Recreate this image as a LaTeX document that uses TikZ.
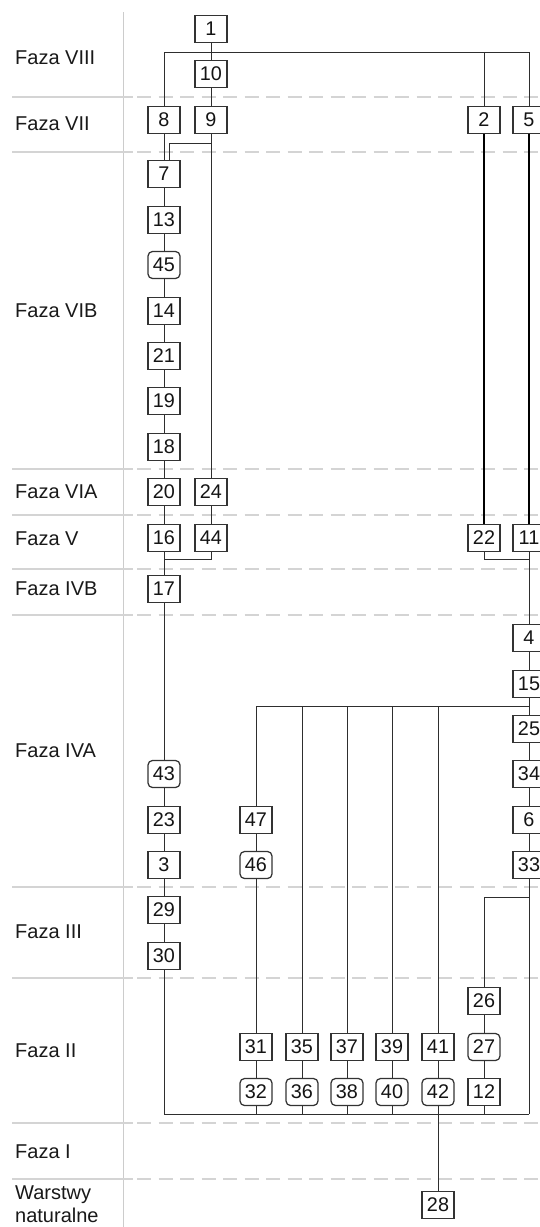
\documentclass[tikz,border=0pt]{standalone}
\usepackage{fontspec}
\setmainfont{Liberation Sans}
\begin{document}
\begin{tikzpicture}[x=1pt,y=-1pt,
  bx/.style={draw=black!80,line width=1.25pt,minimum width=32pt,minimum height=27pt,inner sep=0pt,fill=white,text=black!92,font=\fontsize{19.8}{22}\selectfont},
  rbx/.style={bx,rounded corners=4.5pt},
  ln/.style={draw=black!82,line width=1pt},
  heavyline/.style={draw=black,line width=2.2pt},
  lab/.style={anchor=base west,inner sep=0pt,text=black!90,font=\fontsize{20}{24}\selectfont},
  sepsolid/.style={draw=black!17,line width=1.3pt},
  sepdash/.style={draw=black!17,line width=1.3pt,dash pattern=on 14pt off 7.5pt},
  vsep/.style={draw=black!20,line width=1pt}]
\useasboundingbox (0,0) rectangle (540,1227);
\clip (0,0) rectangle (540,1227);
\fill[white] (0,0) rectangle (540,1227);
% separators
\draw[vsep] (123,12) -- (123,1227);
\foreach \yy in {97,152,469,515,569,615,887,978,1123,1179}{
  \draw[sepsolid] (12,\yy) -- (133,\yy);
  \draw[sepdash] (137,\yy) -- (540,\yy);
}
% labels
\node[lab] (l8) at (15,64) {Faza VIII};
\node[lab] (l7) at (15,130) {Faza VII};
\node[lab] (l6b) at (15,317) {Faza VIB};
\node[lab] (l6a) at (15,498) {Faza VIA};
\node[lab] (l5) at (15,545) {Faza V};
\node[lab] (l4b) at (15,595) {Faza IVB};
\node[lab] (l4a) at (15,757) {Faza IVA};
\node[lab] (l3) at (15,938) {Faza III};
\node[lab] (l2) at (15,1057) {Faza II};
\node[lab] (l1) at (15,1158) {Faza I};
\node[lab] (lw) at (15,1199) {Warstwy};
\node[lab] (ln0) at (15,1222) {naturalne};
% coordinates
\coordinate (top) at (164,52);
\coordinate (topR) at (529,52);
\coordinate (j9) at (211,143);
\coordinate (jA) at (164,559);
\coordinate (jE) at (529,559);
\coordinate (fan) at (529,706);
\coordinate (br) at (529,897);
\coordinate (bl) at (164,1114);
\coordinate (brr) at (529,1114);
% boxes
\node[bx] (n1) at (211,29) {1};
\node[bx] (n10) at (211,74) {10};
\node[bx] (n8) at (164,120) {8};
\node[bx] (n9) at (211,120) {9};
\node[bx] (n2) at (484,120) {2};
\node[bx] (n5) at (529,120) {5};
\node[bx] (n7) at (164,174) {7};
\node[bx] (n13) at (164,220) {13};
\node[rbx] (n45) at (164,265) {45};
\node[bx] (n14) at (164,311) {14};
\node[bx] (n21) at (164,356) {21};
\node[bx] (n19) at (164,401) {19};
\node[bx] (n18) at (164,447) {18};
\node[bx] (n20) at (164,492) {20};
\node[bx] (n24) at (211,492) {24};
\node[bx] (n16) at (164,538) {16};
\node[bx] (n44) at (211,538) {44};
\node[bx] (n22) at (484,538) {22};
\node[bx] (n11) at (529,538) {11};
\node[bx] (n17) at (164,589) {17};
\node[bx] (n4) at (529,638) {4};
\node[bx] (n15) at (529,684) {15};
\node[bx] (n25) at (529,729) {25};
\node[bx] (n34) at (529,774) {34};
\node[bx] (n6) at (529,820) {6};
\node[bx] (n33) at (529,865) {33};
\node[rbx] (n43) at (164,774) {43};
\node[bx] (n23) at (164,820) {23};
\node[bx] (n3) at (164,865) {3};
\node[bx] (n47) at (256,820) {47};
\node[rbx] (n46) at (256,865) {46};
\node[bx] (n29) at (164,910) {29};
\node[bx] (n30) at (164,956) {30};
\node[bx] (n26) at (484,1001) {26};
\node[bx] (n31) at (256,1047) {31};
\node[bx] (n35) at (302,1047) {35};
\node[bx] (n37) at (347,1047) {37};
\node[bx] (n39) at (392,1047) {39};
\node[bx] (n41) at (438,1047) {41};
\node[rbx] (n27) at (484,1047) {27};
\node[rbx] (n32) at (256,1092) {32};
\node[rbx] (n36) at (302,1092) {36};
\node[rbx] (n38) at (347,1092) {38};
\node[rbx] (n40) at (392,1092) {40};
\node[rbx] (n42) at (438,1092) {42};
\node[bx] (n12) at (484,1092) {12};
\node[bx] (n28) at (438,1205) {28};
% connectors
\draw[ln] (top) -- (topR);
\draw[ln] (n8.north) -- (top);
\draw[ln] (n2.north) -- (n2 |- top);
\draw[ln] (n5.north) -- (n5 |- top);
\draw[ln] (n1) -- (n10);
\draw[ln] (n10) -- (n9);
\draw[ln] (n8) -- (n7);
\draw[ln] (n9) -- (n24);
\draw[ln] (j9) -| ([xshift=5pt]n7.north);
\foreach \a/\b in {7/13,13/45,45/14,14/21,21/19,19/18,18/20,20/16,16/17,17/43,43/23,23/3,3/29,29/30,24/44,4/15,15/25,25/34,34/6,6/33,47/46,46/31,31/32,35/36,37/38,39/40,41/42,26/27,27/12,42/28}
  {\draw[ln] (n\a) -- (n\b);}
\draw[ln] (n44.south) |- (jA);
\draw[heavyline] (n2.south) -- (n22.north);
\draw[heavyline] (n5.south) -- (n11.north);
\draw[ln] (n22.south) |- (jE);
\draw[ln] (n11) -- (n4);
\draw[ln] (n33.south) -- (brr);
\draw[ln] (fan) -| (n47.north);
\foreach \k in {35,37,39,41}{\draw[ln] (fan) -| (n\k.north);}
\draw[ln] (br) -| (n26.north);
\draw[ln] (n30.south) -- (bl) -- (brr);
\foreach \k in {32,36,38,40,12}{\draw[ln] (n\k.south) -- (n\k |- bl);}
\end{tikzpicture}
\end{document}
